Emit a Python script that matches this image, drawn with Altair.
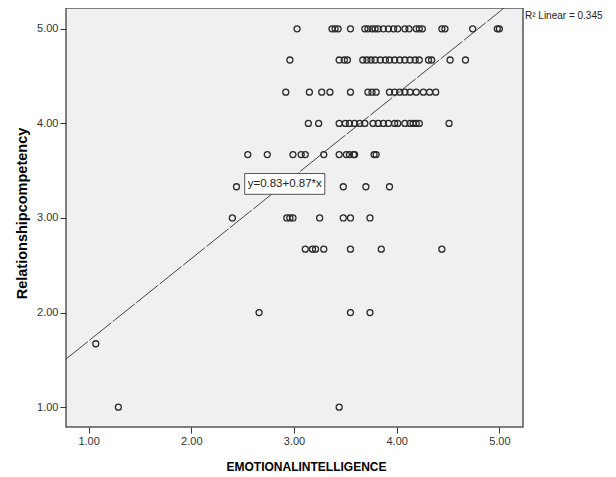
import altair as alt
import pandas as pd

# Relationship competency levels and the EMOTIONALINTELLIGENCE values observed at each
levels = [5.00, 4.67, 4.33, 4.00, 3.67, 3.33, 3.00, 2.67, 2.00, 1.67, 1.00]
ei_at_5_00 = [3.03, 3.37, 3.40, 3.43, 3.55, 3.69, 3.72, 3.76, 3.79, 3.82, 3.87, 3.92,
              3.97, 4.01, 4.08, 4.12, 4.19, 4.22, 4.25, 4.44, 4.47, 4.74, 4.98, 5.00]
ei_at_4_67 = [2.96, 3.44, 3.49, 3.52, 3.67, 3.71, 3.75, 3.79, 3.84, 3.89, 3.93, 3.98,
              4.03, 4.08, 4.13, 4.18, 4.22, 4.31, 4.34, 4.52, 4.67]
ei_at_4_33 = [2.92, 3.15, 3.27, 3.35, 3.55, 3.72, 3.76, 3.80, 3.93, 3.98, 4.03, 4.08,
              4.13, 4.19, 4.26, 4.32, 4.38]
ei_at_4_00 = [3.14, 3.24, 3.44, 3.50, 3.54, 3.59, 3.64, 3.69, 3.77, 3.82, 3.87, 3.92,
              3.98, 4.01, 4.08, 4.13, 4.16, 4.19, 4.22, 4.51]
ei_at_3_67 = [2.55, 2.74, 2.99, 3.07, 3.11, 3.29, 3.44, 3.51, 3.54, 3.58, 3.59, 3.78, 3.80]
ei_at_3_33 = [2.44, 3.48, 3.70, 3.93]
ei_at_3_00 = [2.40, 2.93, 2.96, 2.99, 3.25, 3.48, 3.55, 3.74]
ei_at_2_67 = [3.11, 3.18, 3.21, 3.29, 3.55, 3.85, 4.44]
ei_at_2_00 = [2.66, 3.55, 3.74]
ei_at_1_67 = [1.07]
ei_at_1_00 = [1.29, 3.44]
groups = [ei_at_5_00, ei_at_4_67, ei_at_4_33, ei_at_4_00, ei_at_3_67, ei_at_3_33,
          ei_at_3_00, ei_at_2_67, ei_at_2_00, ei_at_1_67, ei_at_1_00]

# Fit line coefficients and annotation texts
intercept = 0.83
slope = 0.87
fit_x_ends = [0.78, 5.23]
eq_text = "y=0.83+0.87*x"
eq_pos = [2.91, 3.36]
eq_box_x = [2.52, 3.30]
eq_box_y = [3.25, 3.47]
r2_text = "R\u00b2 Linear = 0.345"
tick_vals = [1, 2, 3, 4, 5]

rows = []
for lv, xs in zip(levels, groups):
    for xv in xs:
        rows.append({"x": xv, "y": lv})
df = pd.DataFrame(rows)
line_df = pd.DataFrame({"x": fit_x_ends, "y": [intercept + slope * v for v in fit_x_ends]})
box_df = pd.DataFrame({"x": [eq_box_x[0]], "x2": [eq_box_x[1]], "y": [eq_box_y[0]], "y2": [eq_box_y[1]]})
lab_df = pd.DataFrame({"x": [eq_pos[0]], "y": [eq_pos[1]], "t": [eq_text]})
r2_df = pd.DataFrame({"t": [r2_text]})

FONT = "Liberation Sans"
xs = alt.Scale(domain=[0.78, 5.23], nice=False, zero=False)
ys = alt.Scale(domain=[0.79, 5.22], nice=False, zero=False)

x_axis = alt.Axis(values=tick_vals, format=".2f", title="EMOTIONALINTELLIGENCE", grid=False,
                  domain=False, tickSize=6, tickColor="#333", labelFontSize=11,
                  labelColor="#333", labelFont=FONT, labelPadding=2,
                  titleFont=FONT, titleFontSize=12, titleFontWeight="bold", titleColor="#000",
                  titleX=240, titleY=39, titleBaseline="middle", titleAlign="center")
y_axis = alt.Axis(values=tick_vals, format=".2f", title="Relationshipcompetency", grid=False,
                  domain=False, tickSize=6, tickColor="#333", labelFontSize=11,
                  labelColor="#333", labelFont=FONT, labelPadding=2,
                  titleFont=FONT, titleFontSize=14.5, titleFontWeight="bold", titleColor="#000",
                  titleX=-44, titleY=205, titleBaseline="middle", titleAlign="center", titleAngle=270)

line = alt.Chart(line_df).mark_line(clip=True, color="#444", strokeWidth=1, strokeDash=[28, 2]).encode(
    x=alt.X("x:Q", scale=xs, axis=x_axis),
    y=alt.Y("y:Q", scale=ys, axis=y_axis),
)
points = alt.Chart(df).mark_point(shape="circle", filled=False, size=36, strokeWidth=1.3,
                                  color="#2a2a2a", opacity=1).encode(
    x=alt.X("x:Q", scale=xs),
    y=alt.Y("y:Q", scale=ys),
)
box = alt.Chart(box_df).mark_rect(fill="white", stroke="#555", strokeWidth=1).encode(
    x="x:Q", x2="x2:Q", y="y:Q", y2="y2:Q")
label = alt.Chart(lab_df).mark_text(font=FONT, fontSize=11.5, color="#222").encode(
    x="x:Q", y="y:Q", text="t:N")
r2 = alt.Chart(r2_df).mark_text(font=FONT, fontSize=10, color="#222", align="left",
                                baseline="middle").encode(
    x=alt.value(459), y=alt.value(8), text="t:N")

chart = alt.layer(line, points, box, label, r2).properties(
    width=457, height=419,
    autosize=alt.AutoSizeParams(type="none"),
    padding={"left": 58, "top": 0, "right": 85, "bottom": 47},
    background="white",
).configure_view(fill="#F0F0F0", stroke="#555", strokeWidth=1.5)

chart.save("out.html", embed_options={"renderer": "svg", "actions": False})
